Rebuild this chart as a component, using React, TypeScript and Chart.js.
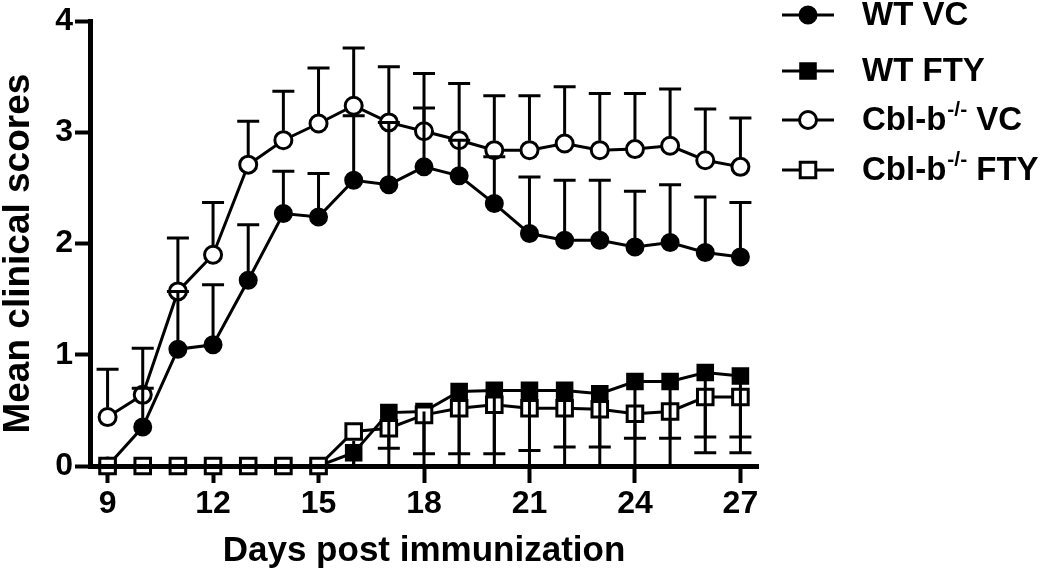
import React, { useEffect, useRef } from 'react';
import { Chart, registerables } from 'chart.js';

Chart.register(...registerables);

// ---- data ----
const days = [9, 10, 11, 12, 13, 14, 15, 16, 17, 18, 19, 20, 21, 22, 23, 24, 25, 26, 27];
const xTickValues = [9, 12, 15, 18, 21, 24, 27];
const yTickValues = [0, 1, 2, 3, 4];

const wtVc = [0, 0.35, 1.05, 1.09, 1.67, 2.27, 2.24, 2.57, 2.53, 2.69, 2.61, 2.36, 2.09, 2.03, 2.03, 1.97, 2.01, 1.92, 1.88];
const wtVcErrUp = [0, 0.35, 0.52, 0.54, 0.5, 0.38, 0.39, 0.58, 0.56, 0.53, 0.32, 0.42, 0.51, 0.54, 0.54, 0.5, 0.52, 0.5, 0.49];

const wtFty = [0, 0, 0, 0, 0, 0, 0, 0.12, 0.48, 0.49, 0.67, 0.68, 0.68, 0.68, 0.65, 0.76, 0.76, 0.84, 0.81];
const wtFtyErrDown = [0, 0, 0, 0, 0, 0, 0, 0.12, 0.48, 0.49, 0.67, 0.68, 0.68, 0.68, 0.65, 0.76, 0.76, 0.72, 0.69];

const cblVc = [0.44, 0.64, 1.57, 1.9, 2.71, 2.93, 3.08, 3.24, 3.09, 3.01, 2.93, 2.84, 2.84, 2.9, 2.84, 2.85, 2.88, 2.75, 2.69];
const cblVcErrUp = [0.43, 0.42, 0.48, 0.47, 0.39, 0.44, 0.5, 0.52, 0.5, 0.52, 0.51, 0.49, 0.49, 0.51, 0.51, 0.5, 0.51, 0.46, 0.44];

const cblFty = [0, 0, 0, 0, 0, 0, 0, 0.31, 0.34, 0.46, 0.52, 0.55, 0.52, 0.52, 0.51, 0.47, 0.49, 0.62, 0.62];
const cblFtyErrDown = [0, 0, 0, 0, 0, 0, 0, 0.31, 0.18, 0.35, 0.41, 0.44, 0.38, 0.35, 0.34, 0.22, 0.24, 0.36, 0.36];

const legendLabels = [
  { main: 'WT VC', sup: '', rest: '' },
  { main: 'WT FTY', sup: '', rest: '' },
  { main: 'Cbl-b', sup: '-/-', rest: ' VC' },
  { main: 'Cbl-b', sup: '-/-', rest: ' FTY' },
];

const xTitle = 'Days post immunization';
const yTitle = 'Mean clinical scores';

const FONT = "'Liberation Sans', Arial, Helvetica, sans-serif";

type Marker = { style: 'circle' | 'rect'; filled: boolean };
const markers: Marker[] = [
  { style: 'circle', filled: true },
  { style: 'rect', filled: true },
  { style: 'circle', filled: false },
  { style: 'rect', filled: false },
];

function drawMarker(ctx: CanvasRenderingContext2D, m: Marker, x: number, y: number) {
  ctx.save();
  ctx.lineWidth = m.filled ? 2 : 3;
  ctx.strokeStyle = '#000';
  ctx.fillStyle = m.filled ? '#000' : '#fff';
  ctx.beginPath();
  if (m.style === 'circle') {
    ctx.arc(x, y, 8.5, 0, Math.PI * 2);
  } else {
    const s = 11 * Math.SQRT1_2;
    ctx.rect(x - s, y - s, 2 * s, 2 * s);
  }
  ctx.fill();
  ctx.stroke();
  ctx.restore();
}

const errorBarPlugin = {
  id: 'errorBars',
  afterDatasetsDraw(chart: any) {
    const { ctx, scales } = chart;
    const xs = scales.x;
    const ys = scales.y;
    ctx.save();
    ctx.strokeStyle = '#000';
    ctx.lineWidth = 3;
    chart.data.datasets.forEach((ds: any) => {
      const errs: number[] = ds.errValues;
      const dir: number = ds.errDir;
      const edge: number = ds.errEdge;
      ds.data.forEach((pt: any, j: number) => {
        const e = errs[j];
        if (!e) return;
        const px = xs.getPixelForValue(pt.x);
        const py = ys.getPixelForValue(pt.y);
        const end = ys.getPixelForValue(Math.max(0, pt.y + dir * e));
        const start = py - dir * edge;
        ctx.beginPath();
        ctx.moveTo(px, start);
        ctx.lineTo(px, end);
        ctx.moveTo(px - 11, end);
        ctx.lineTo(px + 11, end);
        ctx.stroke();
      });
    });
    ctx.restore();
  },
};

// y-axis title drawn centred on the reference position
const yTitlePlugin = {
  id: 'yTitle',
  afterDraw(chart: any) {
    const ctx: CanvasRenderingContext2D = chart.ctx;
    const area = chart.chartArea;
    ctx.save();
    ctx.translate(19, (area.top + area.bottom) / 2 + 10);
    ctx.rotate(-Math.PI / 2);
    ctx.fillStyle = '#000';
    ctx.textAlign = 'center';
    ctx.textBaseline = 'middle';
    ctx.font = `bold 37px ${FONT}`;
    ctx.fillText(yTitle, 0, 0);
    ctx.restore();
  },
};

const legendRowsY = [15, 71, 120, 170];

const legendPlugin = {
  id: 'customLegend',
  afterDraw(chart: any) {
    const ctx: CanvasRenderingContext2D = chart.ctx;
    ctx.save();
    legendLabels.forEach((lab, i) => {
      const y = legendRowsY[i];
      ctx.strokeStyle = '#000';
      ctx.lineWidth = 3;
      ctx.beginPath();
      ctx.moveTo(782, y);
      ctx.lineTo(834, y);
      ctx.stroke();
      drawMarker(ctx, markers[i], 808, y);
      ctx.fillStyle = '#000';
      ctx.textBaseline = 'middle';
      ctx.textAlign = 'left';
      ctx.font = `bold 33px ${FONT}`;
      let x = 862;
      ctx.fillText(lab.main, x, y + 1);
      x += ctx.measureText(lab.main).width;
      if (lab.sup) {
        ctx.font = `bold 21px ${FONT}`;
        ctx.fillText(lab.sup, x + 1, y - 10);
        x += ctx.measureText(lab.sup).width + 1;
        ctx.font = `bold 33px ${FONT}`;
      }
      if (lab.rest) ctx.fillText(lab.rest, x, y + 1);
    });
    ctx.restore();
  },
};

function makeDataset(label: string, values: number[], m: Marker, errs: number[], dir: number, order: number) {
  return {
    label,
    data: values.map((v, i) => ({ x: days[i], y: v })),
    borderColor: '#000',
    borderWidth: 3,
    backgroundColor: m.filled ? '#000' : '#fff',
    pointStyle: m.style,
    pointRadius: m.style === 'circle' ? 8.5 : 11,
    pointBorderWidth: m.filled ? 2 : 3,
    pointBorderColor: '#000',
    pointBackgroundColor: m.filled ? '#000' : '#fff',
    tension: 0,
    clip: false,
    order,
    errValues: errs,
    errDir: dir,
    errEdge: m.filled ? 0 : 9.5,
  } as any;
}

export default function App() {
  const canvasRef = useRef<HTMLCanvasElement | null>(null);

  useEffect(() => {
    document.body.style.margin = '0';
    const canvas = canvasRef.current;
    if (!canvas) return;
    const chart = new Chart(canvas, {
      type: 'line',
      data: {
        datasets: [
          makeDataset('Cbl-b-/- FTY', cblFty, markers[3], cblFtyErrDown, -1, 0),
          makeDataset('Cbl-b-/- VC', cblVc, markers[2], cblVcErrUp, 1, 1),
          makeDataset('WT FTY', wtFty, markers[1], wtFtyErrDown, -1, 2),
          makeDataset('WT VC', wtVc, markers[0], wtVcErrUp, 1, 3),
        ],
      },
      options: {
        responsive: false,
        animation: false,
        devicePixelRatio: 1,
        layout: { padding: { left: 0, top: 15, right: 292, bottom: 0 } },
        plugins: {
          legend: { display: false },
          tooltip: { enabled: false },
        },
        scales: {
          x: {
            type: 'linear',
            min: 8.5,
            max: 27.5,
            afterBuildTicks: (scale: any) => {
              scale.ticks = xTickValues.map((v) => ({ value: v }));
            },
            afterFit: (scale: any) => {
              scale.height = 117;
            },
            grid: {
              display: true,
              drawOnChartArea: false,
              drawTicks: true,
              tickLength: 17,
              tickWidth: 4,
              tickColor: '#000',
              color: '#000',
            },
            border: { display: true, color: '#000', width: 5, z: 1 },
            ticks: {
              color: '#000',
              font: { family: FONT, size: 32, weight: 'bold' },
              padding: 2,
              maxRotation: 0,
              autoSkip: false,
            },
            title: {
              display: true,
              text: xTitle,
              color: '#000',
              font: { family: FONT, size: 35, weight: 'bold' },
              padding: { top: 0, bottom: 11 },
            },
          },
          y: {
            type: 'linear',
            min: 0,
            max: 4,
            afterBuildTicks: (scale: any) => {
              scale.ticks = yTickValues.map((v) => ({ value: v }));
            },
            afterFit: (scale: any) => {
              scale.width = 90;
            },
            grid: {
              display: true,
              drawOnChartArea: false,
              drawTicks: true,
              tickLength: 15,
              tickWidth: 4,
              tickColor: '#000',
              color: '#000',
            },
            border: { display: true, color: '#000', width: 5 },
            ticks: {
              color: '#000',
              font: { family: FONT, size: 32, weight: 'bold' },
              padding: 2,
            },
            title: { display: false },
          },
        },
      } as any,
      plugins: [errorBarPlugin, legendPlugin, yTitlePlugin],
    });
    return () => chart.destroy();
  }, []);

  return (
    <div style={{ position: 'fixed', left: 0, top: 0, width: 1050, height: 583, background: '#fff' }}>
      <canvas ref={canvasRef} width={1050} height={583} style={{ width: 1050, height: 583 }} />
    </div>
  );
}
